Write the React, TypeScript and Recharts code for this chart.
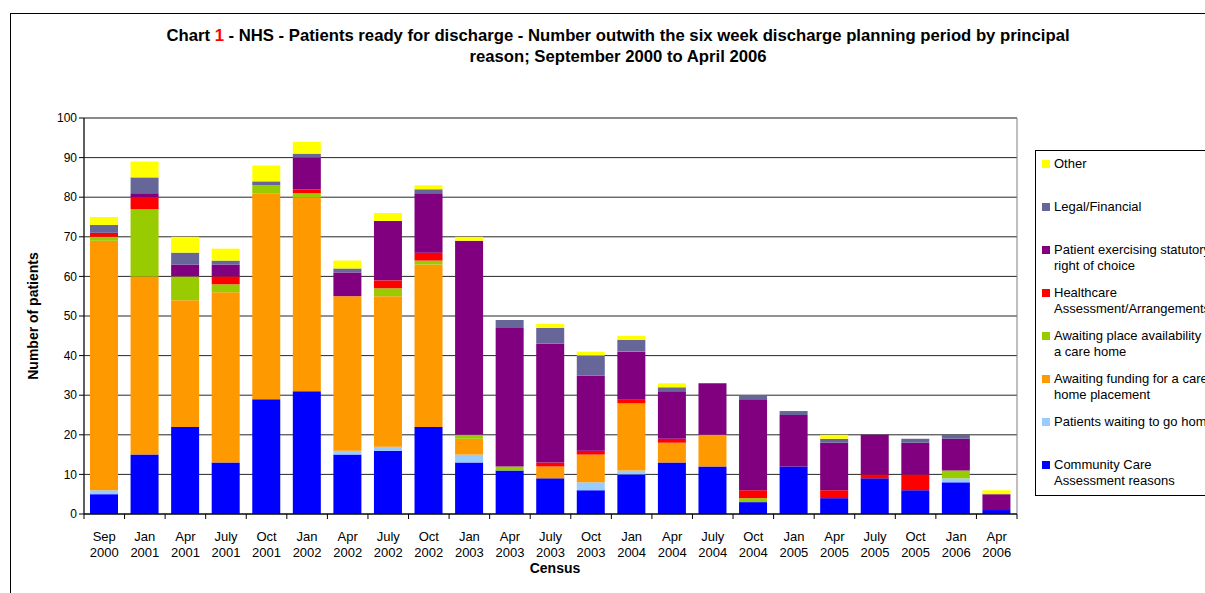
import {
  Bar,
  BarChart,
  CartesianGrid,
  Label,
  ReferenceArea,
  XAxis,
  YAxis,
} from 'recharts'

const months = ['Sep', 'Jan', 'Apr', 'July', 'Oct', 'Jan', 'Apr', 'July', 'Oct', 'Jan', 'Apr', 'July', 'Oct', 'Jan', 'Apr', 'July', 'Oct', 'Jan', 'Apr', 'July', 'Oct', 'Jan', 'Apr']
const years = ['2000', '2001', '2001', '2001', '2001', '2002', '2002', '2002', '2002', '2003', '2003', '2003', '2003', '2004', '2004', '2004', '2004', '2005', '2005', '2005', '2005', '2006', '2006']

// stacked bottom to top
const communityCare = [5, 15, 22, 13, 29, 31, 15, 16, 22, 13, 11, 9, 6, 10, 13, 12, 3, 12, 4, 9, 6, 8, 1]
const waitingHome = [1, 0, 0, 0, 0, 0, 1, 1, 0, 2, 0, 0, 2, 1, 0, 0, 0, 0, 0, 0, 0, 1, 0]
const awaitingFunding = [63, 45, 32, 43, 52, 49, 39, 38, 41, 4, 0, 3, 7, 17, 5, 8, 0, 0, 0, 0, 0, 0, 0]
const awaitingPlace = [1, 17, 6, 2, 2, 1, 0, 2, 1, 1, 1, 0, 0, 0, 0, 0, 1, 0, 0, 0, 0, 2, 0]
const healthcare = [1, 3, 0, 2, 0, 1, 0, 2, 2, 0, 0, 1, 1, 1, 1, 0, 2, 0, 2, 1, 4, 0, 0]
const choice = [0, 1, 3, 3, 0, 8, 6, 15, 15, 49, 35, 30, 19, 12, 12, 13, 23, 13, 12, 10, 8, 8, 4]
const legal = [2, 4, 3, 1, 1, 1, 1, 0, 1, 0, 2, 4, 5, 3, 1, 0, 1, 1, 1, 0, 1, 1, 0]
const other = [2, 4, 4, 3, 4, 3, 2, 2, 1, 1, 0, 1, 1, 1, 1, 0, 0, 0, 1, 0, 0, 0, 1]

const yTicks = [0, 10, 20, 30, 40, 50, 60, 70, 80, 90, 100]

const series = [
  { key: 'cca', values: communityCare, color: '#0000FF', lines: ['Community Care', 'Assessment reasons'] },
  { key: 'home', values: waitingHome, color: '#99CCFF', lines: ['Patients waiting to go home'] },
  { key: 'funding', values: awaitingFunding, color: '#FF9900', lines: ['Awaiting funding for a care', 'home placement'] },
  { key: 'place', values: awaitingPlace, color: '#99CC00', lines: ['Awaiting place availability in', 'a care home'] },
  { key: 'health', values: healthcare, color: '#FF0000', lines: ['Healthcare', 'Assessment/Arrangements'] },
  { key: 'choice', values: choice, color: '#800080', lines: ['Patient exercising statutory', 'right of choice'] },
  { key: 'legal', values: legal, color: '#666699', lines: ['Legal/Financial'] },
  { key: 'other', values: other, color: '#FFFF00', lines: ['Other'] },
]

const data = months.map((m, i) => {
  const row: Record<string, string | number> = { name: m + ' ' + years[i], month: m, year: years[i] }
  series.forEach((s) => {
    row[s.key] = s.values[i]
  })
  return row
})

const FONT = 'Arial, "Liberation Sans", sans-serif'
const BAND = (1017 - 84) / months.length

const CategoryTick = (props: any) => {
  const { x, payload } = props
  const i = payload.index
  return (
    <g>
      <line x1={x - BAND / 2} x2={x - BAND / 2} y1={514} y2={519} stroke="#000" />
      {i === months.length - 1 && (
        <line x1={x + BAND / 2} x2={x + BAND / 2} y1={514} y2={519} stroke="#000" />
      )}
      <text x={x} y={514} textAnchor="middle" fontSize={13} fontFamily={FONT} fill="#000">
        <tspan x={x} dy={27}>{months[i]}</tspan>
        <tspan x={x} dy={16}>{years[i]}</tspan>
      </text>
    </g>
  )
}

const App = () => {
  return (
    <div
      style={{
        position: 'fixed',
        left: 0,
        top: 0,
        width: 1205,
        height: 593,
        overflow: 'hidden',
        background: '#fff',
        fontFamily: FONT,
      }}
    >
      <div
        style={{
          position: 'absolute',
          left: 10,
          top: 13,
          width: 1400,
          height: 800,
          border: '1px solid #000',
        }}
      />
      <div
        style={{
          position: 'absolute',
          left: 0,
          width: 1236,
          top: 25,
          textAlign: 'center',
          fontWeight: 'bold',
          fontSize: 16.7,
          lineHeight: '21px',
          color: '#000',
        }}
      >
        Chart <span style={{ color: '#FF0000' }}>1</span> - NHS - Patients ready for discharge - Number outwith the six week discharge planning period by principal
        <br />
        reason; September 2000 to April 2006
      </div>
      <BarChart
        width={1205}
        height={593}
        data={data}
        margin={{ top: 118, right: 188, bottom: 0, left: 44 }}
        barSize={28}
        style={{ position: 'absolute', left: 0, top: 0 }}
      >
        <CartesianGrid horizontal vertical={false} stroke="#111" strokeOpacity={0.9} />
        <ReferenceArea y1={0} y2={100} fill="none" stroke="#808080" strokeWidth={1} ifOverflow="visible" />
        <XAxis
          dataKey="name"
          height={79}
          tickLine={false}
          axisLine={{ stroke: '#000' }}
          interval={0}
          tick={<CategoryTick />}
        >
          <Label
            content={() => (
              <text x={555} y={573} textAnchor="middle" fontSize={14} fontWeight="bold" fontFamily={FONT} fill="#000">
                Census
              </text>
            )}
          />
        </XAxis>
        <YAxis
          width={40}
          domain={[0, 100]}
          ticks={yTicks}
          interval={0}
          tickSize={5}
          tickLine={{ stroke: '#000' }}
          axisLine={{ stroke: '#000' }}
          tick={{ fontSize: 12, fontFamily: FONT, fill: '#000' }}
        >
          <Label
            content={() => (
              <text
                x={38}
                y={316}
                textAnchor="middle"
                fontSize={14}
                fontWeight="bold"
                fontFamily={FONT}
                fill="#000"
                transform="rotate(-90 38 316)"
              >
                Number of patients
              </text>
            )}
          />
        </YAxis>
        {series.map((s) => (
          <Bar key={s.key} dataKey={s.key} stackId="a" fill={s.color} isAnimationActive={false} />
        ))}
      </BarChart>
      <div
        style={{
          position: 'absolute',
          left: 1035,
          top: 150,
          width: 300,
          height: 344,
          border: '1px solid #000',
          background: '#fff',
          fontSize: 13,
          color: '#000',
        }}
      >
        {[...series].reverse().map((s, k) => (
          <div
            key={s.key}
            style={{ position: 'absolute', left: 6, top: 5 + k * 43, whiteSpace: 'nowrap', lineHeight: '16px' }}
          >
            <span
              style={{
                position: 'absolute',
                left: 0,
                top: 4,
                width: 8,
                height: 8,
                background: s.color,
              }}
            />
            <div style={{ marginLeft: 12 }}>
              {s.lines.map((l) => (
                <div key={l}>{l}</div>
              ))}
            </div>
          </div>
        ))}
      </div>
    </div>
  )
}

export default App
